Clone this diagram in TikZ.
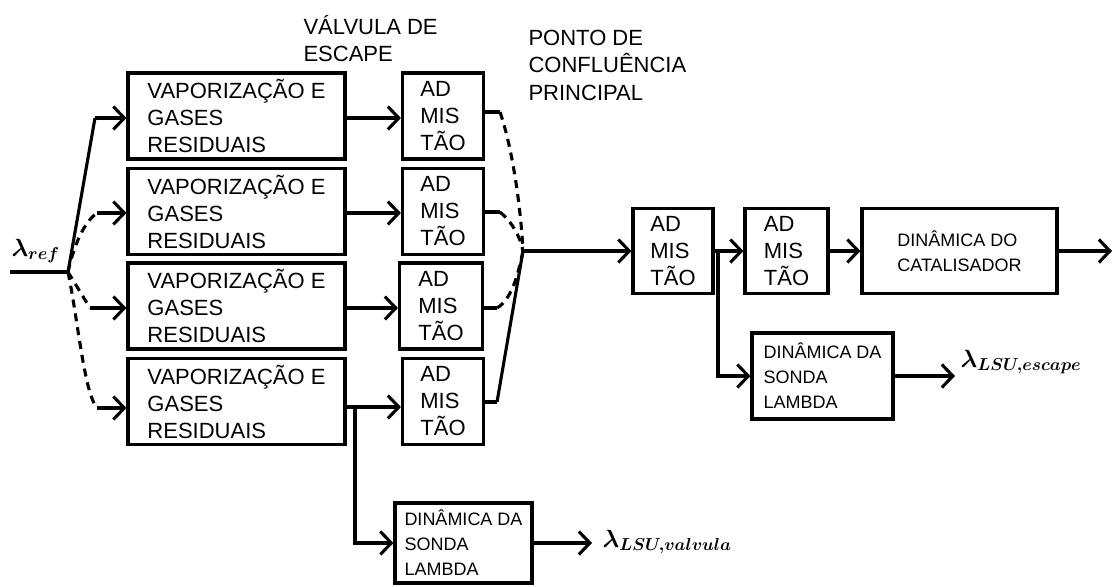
\documentclass[tikz,border=0pt]{standalone}
\usepackage{fontspec}
\setmainfont{Liberation Sans}
\usepackage{amsmath}
\usetikzlibrary{arrows.meta}
\begin{document}
\begin{tikzpicture}[x=1pt,y=-1pt,line width=3.1pt,
  box/.style={draw,line width=3.1pt,inner sep=0pt,align=left,font=\fontsize{22}{27}\selectfont},
  sbox/.style={draw,line width=3.1pt,inner sep=0pt,align=left,font=\fontsize{18}{25}\selectfont},
  lbl/.style={inner sep=0pt,align=left,font=\fontsize{22}{27.5}\selectfont},
  mlbl/.style={inner sep=0pt,font=\fontsize{25}{28}\selectfont},
  arr/.style={-{Straight Barb[length=11pt,width=23pt]}},
  dsh/.style={dash pattern=on 8pt off 6pt}]
\useasboundingbox (0,0) rectangle (1115,586);

% top labels (anchored on the baseline of the last line)
\node[lbl,anchor=base west] (tv) at (302,62) {VÁLVULA DE\\ESCAPE};
\node[lbl,anchor=base west] (tp) at (527,100) {PONTO DE\\CONFLUÊNCIA\\PRINCIPAL};

% vaporization boxes
\node[box,minimum width=217pt,minimum height=86pt] (v1) at (236.5,116) {VAPORIZAÇÃO E\\GASES\\RESIDUAIS};
\node[box,minimum width=217pt,minimum height=86pt] (v2) at (236.5,211.5) {VAPORIZAÇÃO E\\GASES\\RESIDUAIS};
\node[box,minimum width=217pt,minimum height=86pt] (v3) at (236.5,306) {VAPORIZAÇÃO E\\GASES\\RESIDUAIS};
\node[box,minimum width=217pt,minimum height=86pt] (v4) at (236.5,401.5) {VAPORIZAÇÃO E\\GASES\\RESIDUAIS};

% admission boxes (valve)
\node[box,minimum width=81pt,minimum height=86pt] (a1) at (443,116) {AD\\MIS\\TÃO};
\node[box,minimum width=81pt,minimum height=86pt] (a2) at (443,211.5) {AD\\MIS\\TÃO};
\node[box,minimum width=83pt,minimum height=86pt] (a3) at (441,306) {AD\\MIS\\TÃO};
\node[box,minimum width=81pt,minimum height=86pt] (a4) at (443,401.5) {AD\\MIS\\TÃO};

% main line boxes
\node[box,minimum width=80pt,minimum height=85pt] (m1) at (673,251) {AD\\MIS\\TÃO};
\node[box,minimum width=83pt,minimum height=85pt] (m2) at (786.5,251) {AD\\MIS\\TÃO};
\node[sbox,minimum width=195pt,minimum height=85pt] (cat) at (959.5,251) {DINÂMICA DO\\CATALISADOR};
\node[sbox,minimum width=141pt,minimum height=86pt] (le) at (822.5,376) {DINÂMICA DA\\SONDA\\LAMBDA};
\node[sbox,minimum width=137pt,minimum height=80pt] (lv) at (463.5,543) {DINÂMICA DA\\SONDA\\LAMBDA};

% lambda labels
\node[mlbl,anchor=base west] (lref) at (10,256) {$\boldsymbol{\lambda}_{\boldsymbol{ref}}$};
\node[mlbl,anchor=base west] (lesc) at (959,367) {$\boldsymbol{\lambda}_{\boldsymbol{LSU,escape}}$};
\node[mlbl,anchor=base west] (lval) at (601,547) {$\boldsymbol{\lambda}_{\boldsymbol{LSU,valvula}}$};

% input distribution
\coordinate (in) at (10,272);
\coordinate (J0) at (68,272);
\coordinate (c1) at (95,118);
\coordinate (c2) at (97,213);
\coordinate (c3) at (90,308);
\coordinate (c4) at (97,408);
\draw (in) -- (J0);
\draw (J0) -- (c1);
\draw[arr] (c1) -- (v1.west |- c1);
\draw[dsh] (J0) .. controls (74,245) and (84,222) .. (c2);
\draw[arr] (c2) -- (v2.west |- c2);
\draw[dsh] (J0) -- (c3);
\draw[arr] (c3) -- (v3.west |- c3);
\draw[dsh] (J0) .. controls (78,320) and (84,392) .. (c4);
\draw[arr] (c4) -- (v4.west |- c4);

% vaporization -> valve admission
\draw[arr] (v1.east |- 0,118) -- (a1.west |- 0,118);
\draw[arr] (v2.east |- 0,213) -- (a2.west |- 0,213);
\draw[arr] (v3.east |- 0,308) -- (a3.west |- 0,308);
\coordinate (b4) at (355,407);
\draw (v4.east |- b4) -- (b4);
\draw[arr] (b4) -- (a4.west |- b4);
\draw[arr] (b4) |- (lv.west);
\coordinate (tipV) at (592,543);
\draw[arr] (lv.east |- tipV) -- (tipV);

% confluence
\coordinate (J) at (523,251);
\coordinate (s1) at (500,112);
\coordinate (s2) at (500,212);
\coordinate (s3) at (497,308);
\coordinate (s4) at (497,402);
\draw (a1.east |- s1) -- (s1);
\draw (a2.east |- s2) -- (s2);
\draw (a3.east |- s3) -- (s3);
\draw (a4.east |- s4) -- (s4);
\draw[dsh] (s1) .. controls (513,150) and (521,210) .. (J);
\draw[dsh] (s2) .. controls (512,222) and (520,236) .. (J);
\draw[dsh] (s3) .. controls (511,300) and (518,276) .. (J);
\draw (s4) -- (J);

% main line
\draw[arr] (J) -- (m1);
\draw[arr] (m1) -- (m2);
\draw[arr] (m2) -- (cat);
\coordinate (out) at (1112,251);
\draw[arr] (cat) -- (out);
\coordinate (b5) at (718,251);
\draw[arr] (b5) |- (le.west);
\coordinate (tipE) at (955,376);
\draw[arr] (le.east |- tipE) -- (tipE);
\end{tikzpicture}
\end{document}
